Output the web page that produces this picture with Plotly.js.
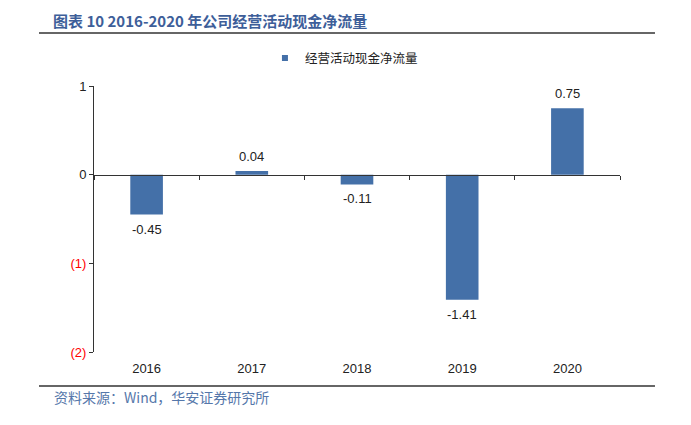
<!DOCTYPE html>
<html>
<head>
<meta charset="utf-8">
<script src="https://cdn.plot.ly/plotly-3.0.1.min.js"></script>
<style>html,body{margin:0;padding:0;background:#fff;}#chart{width:691px;height:425px;}</style>
</head>
<body>
<div id="chart"></div>
<script>
var categories = ['2016', '2017', '2018', '2019', '2020'];
var cashFlow = [-0.45, 0.04, -0.11, -1.41, 0.75];
var seriesName = '经营活动现金净流量';
var yTickVals = [1, 0, -1, -2];
var yTickText = ['1', '0', '<span style="color:#ff0000">(1)</span>', '<span style="color:#ff0000">(2)</span>'];
var titleText = '图表 10 2016-2020 年公司经营活动现金净流量';
var sourceText = '资料来源：Wind，华安证券研究所';

var barColor = '#4470a8';
var boundaries = [];
for (var i = 0; i <= categories.length; i++) boundaries.push(i - 0.5);

var traces = [
  {
    type: 'bar',
    x: categories,
    y: cashFlow,
    name: seriesName,
    marker: {color: barColor},
    width: 0.31,
    showlegend: false,
    hoverinfo: 'x+y'
  },
  {
    type: 'scatter', x: [categories[0]], y: [null], mode: 'markers', name: seriesName,
    marker: {symbol: 'square', size: 6, color: barColor}, showlegend: true, hoverinfo: 'skip'
  },
  {
    type: 'scatter', x: [0], y: [0], xaxis: 'x2', mode: 'markers',
    marker: {opacity: 0}, showlegend: false, hoverinfo: 'skip'
  }
];

var labelAnnotations = categories.map(function (c, i) {
  var v = cashFlow[i];
  return {
    x: i, y: v, xref: 'x', yref: 'y', text: v.toFixed(2), showarrow: false,
    xanchor: 'center', yanchor: v >= 0 ? 'bottom' : 'top', yshift: v >= 0 ? 5 : -5,
    font: {family: 'Liberation Sans, Arial, sans-serif', size: 13, color: '#222'}
  };
});

var layout = {
  width: 691, height: 425,
  margin: {l: 94, r: 71, t: 86, b: 73},
  paper_bgcolor: '#fff', plot_bgcolor: '#fff',
  font: {family: 'Liberation Sans, Arial, sans-serif', size: 13, color: '#222'},
  showlegend: true,
  legend: {
    x: 0.325, y: 1.16, xanchor: 'left', yanchor: 'top', orientation: 'h',
    font: {family: 'Noto Sans CJK SC, sans-serif', size: 12.5, color: '#222'},
    bgcolor: 'rgba(0,0,0,0)'
  },
  xaxis: {
    type: 'category', range: [-0.5, 4.5], showline: false, ticks: '',
    showgrid: false, zeroline: false, ticklabelstandoff: 7,
    tickfont: {family: 'Liberation Sans, Arial, sans-serif', size: 13, color: '#222'}
  },
  xaxis2: {
    overlaying: 'x', anchor: 'free', position: 2 / 3, type: 'linear',
    range: [-0.5, 4.5], tickvals: boundaries, showticklabels: false,
    ticks: 'outside', ticklen: 4, tickcolor: '#333', showline: true, linecolor: '#333', linewidth: 1,
    showgrid: false, zeroline: false
  },
  yaxis: {
    range: [-2, 1], tickvals: yTickVals, ticktext: yTickText,
    showline: true, linecolor: '#333', linewidth: 1, ticks: 'outside', ticklen: 4, tickcolor: '#333',
    showgrid: false, zeroline: false,
    tickfont: {family: 'Liberation Sans, Arial, sans-serif', size: 13, color: '#222'}
  },
  shapes: [
    {type: 'line', xref: 'paper', yref: 'paper', x0: -0.1046, x1: 1.0665, y0: 1.199, y1: 1.199,
      line: {color: '#333', width: 1.5}},
    {type: 'line', xref: 'paper', yref: 'paper', x0: -0.1046, x1: 1.0665, y0: -0.128, y1: -0.128,
      line: {color: '#333', width: 1.5}}
  ],
  annotations: labelAnnotations.concat([
    {text: '<b>' + titleText + '</b>', xref: 'paper', yref: 'paper', x: -0.0817, y: 1.248,
      xanchor: 'left', yanchor: 'middle', showarrow: false,
      font: {family: 'Noto Sans CJK SC, sans-serif', size: 15, color: '#3d5e99'}},
    {text: sourceText, xref: 'paper', yref: 'paper', x: -0.08, y: -0.169,
      xanchor: 'left', yanchor: 'middle', showarrow: false,
      font: {family: 'Noto Sans CJK SC, sans-serif', size: 14, color: '#5577aa'}}
  ])
};

Plotly.newPlot('chart', traces, layout, {displayModeBar: false, staticPlot: true});
</script>
</body>
</html>
